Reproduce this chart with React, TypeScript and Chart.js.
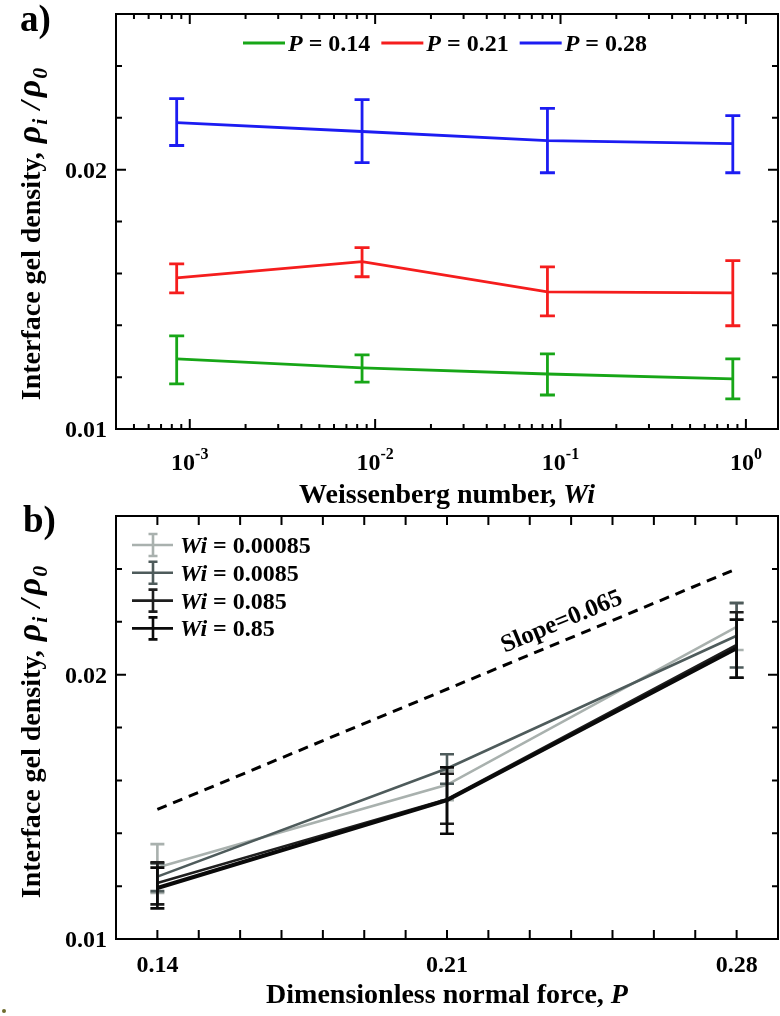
import { useEffect, useRef } from 'react';
import { Chart, registerables } from 'chart.js';

Chart.register(...registerables);

const FONT = "'Liberation Serif', 'Times New Roman', Times, serif";

// ---- data ----
const WI = [0.00085, 0.0085, 0.085, 0.85];
const WI_LABELS = ['0.00085', '0.0085', '0.085', '0.85'];
const P_VALUES = [0.14, 0.21, 0.28];
const P_LABELS = ['0.14', '0.21', '0.28'];

// interface gel density (mean, upper, lower) for each P, across Wi
const P014_MEAN = [0.0127, 0.01236, 0.01212, 0.01193];
const P014_HI = [0.01359, 0.01286, 0.0129, 0.0127];
const P014_LO = [0.01174, 0.01181, 0.01131, 0.01116];

const P021_MEAN = [0.01583, 0.01645, 0.01529, 0.01525];
const P021_HI = [0.01637, 0.01699, 0.01625, 0.01649];
const P021_LO = [0.01525, 0.01587, 0.01436, 0.01398];

const P028_MEAN = [0.02181, 0.02147, 0.02112, 0.021];
const P028_HI = [0.02274, 0.0227, 0.02236, 0.02208];
const P028_LO = [0.02093, 0.02027, 0.01988, 0.01988];

const SLOPE_P = [0.14, 0.28];
const SLOPE_VALUES = [0.0149, 0.024];
const SLOPE_LABEL = 'Slope=0.065';

const Y_TICK_VALUES = [0.01, 0.02];
const Y_TICK_LABELS = ['0.01', '0.02'];
const WI_TICK_VALUES = [0.001, 0.01, 0.1, 1];
const WI_TICK_EXP = ['-3', '-2', '-1', '0'];

const COLORS_P = ['#17a617', '#f51d1d', '#1c1cf2'];
const COLORS_WI = ['#a9b1ae', '#4e5b5b', '#1e1e1e', '#0a0a0a'];
const WIDTHS_WI = [2.6, 2.6, 2.6, 4];

type Run = { text: string; font: string; dy?: number; dx?: number };

function drawRuns(ctx: CanvasRenderingContext2D, runs: Run[], x: number, y: number, align = 'left') {
  ctx.textAlign = 'left';
  ctx.textBaseline = 'alphabetic';
  let total = 0;
  for (const r of runs) {
    ctx.font = r.font;
    total += ctx.measureText(r.text).width + (r.dx || 0);
  }
  let cx = align === 'center' ? x - total / 2 : align === 'right' ? x - total : x;
  for (const r of runs) {
    ctx.font = r.font;
    cx += r.dx || 0;
    ctx.fillText(r.text, cx, y + (r.dy || 0));
    cx += ctx.measureText(r.text).width;
  }
  return total;
}

const B = (s: number) => `bold ${s}px ${FONT}`;
const BI = (s: number) => `italic bold ${s}px ${FONT}`;

const yTitleRuns: Run[] = [
  { text: 'Interface gel density, ', font: B(28) },
  { text: 'ρ', font: BI(34), dx: 2 },
  { text: 'i', font: BI(22), dy: 7, dx: 1 },
  { text: '/', font: BI(30), dx: 9 },
  { text: 'ρ', font: BI(34), dx: 4 },
  { text: '0', font: BI(22), dy: 7, dx: 1 },
];

function drawErrorBars(chart: any, index: number, half: number) {
  const ds: any = chart.data.datasets[index];
  if (!ds.errLo) return;
  const ctx = chart.ctx as CanvasRenderingContext2D;
  const xs = chart.scales.x;
  const ys = chart.scales.y;
  ctx.save();
  ctx.strokeStyle = ds.borderColor;
  ctx.lineWidth = ds.errWidth || 2.8;
  ctx.lineCap = 'butt';
  ds.data.forEach((pt: any, j: number) => {
    const x = xs.getPixelForValue(pt.x);
    const yh = ys.getPixelForValue(ds.errHi[j]);
    const yl = ys.getPixelForValue(ds.errLo[j]);
    ctx.beginPath();
    ctx.moveTo(x, yh);
    ctx.lineTo(x, yl);
    ctx.moveTo(x - half, yh);
    ctx.lineTo(x + half, yh);
    ctx.moveTo(x - half, yl);
    ctx.lineTo(x + half, yl);
    ctx.stroke();
  });
  ctx.restore();
}

function drawFrameAndYTicks(chart: any) {
  const ctx = chart.ctx as CanvasRenderingContext2D;
  const { left, right, top, bottom } = chart.chartArea;
  const ys = chart.scales.y;
  ctx.save();
  ctx.strokeStyle = '#000';
  ctx.lineWidth = 2;
  ctx.strokeRect(left, top, right - left, bottom - top);
  ctx.beginPath();
  for (let i = 6; i <= 12; i++) {
    const v = i * 0.002;
    const y = ys.getPixelForValue(v);
    const len = i === 10 ? 10 : 6;
    ctx.moveTo(left, y);
    ctx.lineTo(left + len, y);
    ctx.moveTo(right, y);
    ctx.lineTo(right - len, y);
  }
  ctx.stroke();
  ctx.fillStyle = '#000';
  ctx.font = B(24);
  ctx.textAlign = 'right';
  ctx.textBaseline = 'middle';
  Y_TICK_VALUES.forEach((v, i) => {
    ctx.fillText(Y_TICK_LABELS[i], left - 9, ys.getPixelForValue(v) + 2);
  });
  ctx.restore();
}

function drawYTitle(ctx: CanvasRenderingContext2D, x: number, y: number) {
  ctx.save();
  ctx.translate(x, y);
  ctx.rotate(-Math.PI / 2);
  ctx.fillStyle = '#000';
  drawRuns(ctx, yTitleRuns, 0, 0, 'center');
  ctx.restore();
}

const topPlugin = {
  id: 'topDecor',
  afterDatasetDraw(chart: any, args: any) {
    drawErrorBars(chart, args.index, 7.5);
  },
  afterDraw(chart: any) {
    const ctx = chart.ctx as CanvasRenderingContext2D;
    const { left, right, top, bottom } = chart.chartArea;
    const xs = chart.scales.x;
    drawFrameAndYTicks(chart);
    ctx.save();
    ctx.strokeStyle = '#000';
    ctx.lineWidth = 2;
    ctx.beginPath();
    for (let k = -4; k <= 0; k++) {
      for (let m = 1; m <= 9; m++) {
        const v = m * Math.pow(10, k);
        if (v <= xs.min || v >= xs.max) continue;
        const x = xs.getPixelForValue(v);
        const len = m === 1 ? 10 : 5;
        ctx.moveTo(x, bottom);
        ctx.lineTo(x, bottom - len);
        ctx.moveTo(x, top);
        ctx.lineTo(x, top + len);
      }
    }
    ctx.stroke();
    ctx.fillStyle = '#000';
    WI_TICK_VALUES.forEach((v, i) => {
      const x = xs.getPixelForValue(v);
      drawRuns(ctx, [
        { text: '10', font: B(24) },
        { text: WI_TICK_EXP[i], font: B(16), dy: -11 },
      ], x, 470, 'center');
    });
    drawRuns(ctx, [
      { text: 'Weissenberg number, ', font: B(28) },
      { text: 'Wi', font: BI(28) },
    ], (left + right) / 2, 503, 'center');
    drawYTitle(ctx, 40, 234);
    ctx.font = B(37);
    ctx.textAlign = 'left';
    ctx.textBaseline = 'alphabetic';
    ctx.fillText('a)', 20, 31);
    // legend
    let lx = 243;
    const ly = 43;
    chart.data.datasets.forEach((ds: any) => {
      ctx.strokeStyle = ds.borderColor;
      ctx.lineWidth = 2.8;
      ctx.beginPath();
      ctx.moveTo(lx, ly);
      ctx.lineTo(lx + 42, ly);
      ctx.stroke();
      ctx.fillStyle = '#000';
      const w = drawRuns(ctx, [
        { text: 'P', font: BI(24) },
        { text: ' = ' + ds.label, font: B(24) },
      ], lx + 45, ly + 8, 'left');
      lx += 45 + w + 11;
    });
    ctx.restore();
  },
};

const bottomPlugin = {
  id: 'bottomDecor',
  afterDatasetDraw(chart: any, args: any) {
    drawErrorBars(chart, args.index, 7);
  },
  afterDraw(chart: any) {
    const ctx = chart.ctx as CanvasRenderingContext2D;
    const { left, right, top, bottom } = chart.chartArea;
    const xs = chart.scales.x;
    const ys = chart.scales.y;
    drawFrameAndYTicks(chart);
    ctx.save();
    ctx.strokeStyle = '#000';
    ctx.lineWidth = 2;
    ctx.beginPath();
    for (let i = 14; i <= 28; i++) {
      const x = xs.getPixelForValue(i / 100);
      ctx.moveTo(x, bottom);
      ctx.lineTo(x, bottom - 9);
      ctx.moveTo(x, top);
      ctx.lineTo(x, top + 9);
    }
    ctx.stroke();
    ctx.fillStyle = '#000';
    ctx.font = B(24);
    ctx.textAlign = 'center';
    ctx.textBaseline = 'alphabetic';
    P_VALUES.forEach((v, i) => {
      ctx.fillText(P_LABELS[i], xs.getPixelForValue(v), 472);
    });
    drawRuns(ctx, [
      { text: 'Dimensionless normal force, ', font: B(28) },
      { text: 'P', font: BI(28) },
    ], (left + right) / 2, 503, 'center');
    drawYTitle(ctx, 40, 232);
    ctx.font = B(37);
    ctx.textAlign = 'left';
    ctx.fillText('b)', 23, 32);
    // slope label
    const x0 = xs.getPixelForValue(SLOPE_P[0]);
    const y0 = ys.getPixelForValue(SLOPE_VALUES[0]);
    const x1 = xs.getPixelForValue(SLOPE_P[1]);
    const y1 = ys.getPixelForValue(SLOPE_VALUES[1]);
    const ang = Math.atan2(y1 - y0, x1 - x0);
    const t = 0.71;
    const cx = x0 + t * (x1 - x0) + 18 * Math.sin(ang);
    const cy = y0 + t * (y1 - y0) - 18 * Math.cos(ang);
    ctx.save();
    ctx.translate(cx, cy);
    ctx.rotate(ang);
    ctx.font = B(25);
    ctx.textAlign = 'center';
    ctx.textBaseline = 'middle';
    ctx.fillText(SLOPE_LABEL, 0, 0);
    ctx.restore();
    // legend
    const items = chart.data.datasets.filter((d: any) => d.errLo);
    items.forEach((ds: any, i: number) => {
      const ly = 45 + i * 27.8;
      ctx.strokeStyle = ds.borderColor;
      ctx.lineWidth = 2.6;
      ctx.beginPath();
      ctx.moveTo(132, ly);
      ctx.lineTo(173, ly);
      ctx.moveTo(153, ly - 11);
      ctx.lineTo(153, ly + 11);
      ctx.moveTo(148.5, ly - 11);
      ctx.lineTo(157.5, ly - 11);
      ctx.moveTo(148.5, ly + 11);
      ctx.lineTo(157.5, ly + 11);
      ctx.stroke();
      ctx.fillStyle = '#000';
      drawRuns(ctx, [
        { text: 'Wi', font: BI(24) },
        { text: ' = ' + ds.label, font: B(24) },
      ], 180, ly + 8, 'left');
    });
    ctx.restore();
  },
};

export default function App() {
  const refA = useRef<HTMLCanvasElement>(null);
  const refB = useRef<HTMLCanvasElement>(null);

  useEffect(() => {
    const topSeries = [
      { label: '0.14', mean: P014_MEAN, hi: P014_HI, lo: P014_LO },
      { label: '0.21', mean: P021_MEAN, hi: P021_HI, lo: P021_LO },
      { label: '0.28', mean: P028_MEAN, hi: P028_HI, lo: P028_LO },
    ];
    const chartA = new Chart(refA.current as HTMLCanvasElement, {
      type: 'line',
      data: {
        datasets: topSeries.map((s, i) => ({
          label: s.label,
          data: WI.map((w, j) => ({ x: w, y: s.mean[j] })),
          errHi: s.hi,
          errLo: s.lo,
          borderColor: COLORS_P[i],
          borderWidth: 2.8,
          pointRadius: 0,
          fill: false,
          tension: 0,
        })) as any,
      },
      options: {
        responsive: false,
        animation: false,
        events: [],
        layout: { padding: { left: 116, right: 2, top: 14, bottom: 86 } },
        plugins: { legend: { display: false }, tooltip: { enabled: false } },
        scales: {
          x: { type: 'logarithmic', min: 0.0004, max: 1.49, display: false },
          y: { type: 'linear', min: 0.01, max: 0.026, display: false },
        },
      },
      plugins: [topPlugin as any],
    });

    const means = [P014_MEAN, P021_MEAN, P028_MEAN];
    const his = [P014_HI, P021_HI, P028_HI];
    const los = [P014_LO, P021_LO, P028_LO];
    const wiSets = WI.map((_, j) => ({
      label: WI_LABELS[j],
      data: P_VALUES.map((p, k) => ({ x: p, y: means[k][j] })),
      errHi: P_VALUES.map((_, k) => his[k][j]),
      errLo: P_VALUES.map((_, k) => los[k][j]),
      errWidth: 2.6,
      borderColor: COLORS_WI[j],
      borderWidth: WIDTHS_WI[j],
      pointRadius: 0,
      fill: false,
      tension: 0,
      order: 4 - j,
    }));
    const slopeSet = {
      label: 'slope',
      data: SLOPE_P.map((p, k) => ({ x: p, y: SLOPE_VALUES[k] })),
      borderColor: '#000',
      borderWidth: 3,
      borderDash: [10, 7],
      pointRadius: 0,
      fill: false,
      tension: 0,
      order: 5,
    };
    const chartB = new Chart(refB.current as HTMLCanvasElement, {
      type: 'line',
      data: { datasets: [...wiSets, slopeSet] as any },
      options: {
        responsive: false,
        animation: false,
        events: [],
        layout: { padding: { left: 116, right: 2, top: 16, bottom: 77 } },
        plugins: { legend: { display: false }, tooltip: { enabled: false } },
        scales: {
          x: { type: 'linear', min: 0.13, max: 0.29, display: false },
          y: { type: 'linear', min: 0.01, max: 0.026, display: false },
        },
      },
      plugins: [bottomPlugin as any],
    });

    return () => {
      chartA.destroy();
      chartB.destroy();
    };
  }, []);

  return (
    <div style={{ position: 'absolute', left: 0, top: 0, width: 780, height: 1016, background: '#fff' }}>
      <canvas ref={refA} width={780} height={515} style={{ position: 'absolute', left: 0, top: 0, display: 'block' }} />
      <canvas ref={refB} width={780} height={516} style={{ position: 'absolute', left: 0, top: 500, display: 'block' }} />
      <div style={{ position: 'absolute', left: 2, top: 1009, width: 4, height: 4, borderRadius: 2, background: '#6e6b2e' }} />
    </div>
  );
}
